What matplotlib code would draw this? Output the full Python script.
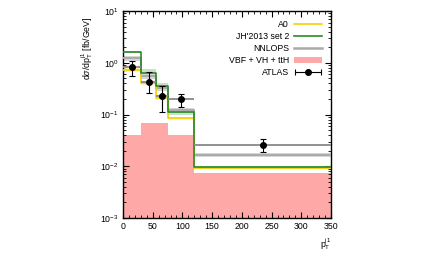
import matplotlib
matplotlib.use("Agg")
import matplotlib.pyplot as plt
import numpy as np
from matplotlib.patches import Patch
from matplotlib.lines import Line2D
from matplotlib.legend_handler import HandlerErrorbar
from matplotlib.ticker import MultipleLocator, LogLocator, NullFormatter

plt.rcParams['font.family'] = ['Liberation Sans', 'DejaVu Sans']
plt.rcParams['mathtext.fontset'] = 'custom'
plt.rcParams['mathtext.rm'] = 'Liberation Sans'
plt.rcParams['mathtext.it'] = 'Liberation Sans:italic'

# Data
edges = [0, 30, 55, 75, 120, 350]
a0 = [0.72, 0.41, 0.21, 0.084, 0.0092]
a0_lo = [0.66, 0.38, 0.19, 0.078, 0.0087]
a0_hi = [0.78, 0.45, 0.23, 0.090, 0.0098]
jh = [1.64, 0.64, 0.36, 0.113, 0.0095]
jh_lo = [1.55, 0.60, 0.33, 0.100, 0.0088]
jh_hi = [1.72, 0.75, 0.40, 0.125, 0.0102]
nnlops = [1.22, 0.55, 0.32, 0.122, 0.0165]
nnlops_lo = [1.10, 0.48, 0.29, 0.105, 0.0150]
nnlops_hi = [1.35, 0.62, 0.35, 0.135, 0.0180]
vbf = [0.040, 0.069, 0.069, 0.040, 0.0073]
atlas_x = [15, 43, 65, 98, 235]
atlas_y = [0.84, 0.42, 0.228, 0.196, 0.0258]
atlas_ylo = [0.55, 0.26, 0.113, 0.138, 0.0186]
atlas_yhi = [1.08, 0.67, 0.356, 0.249, 0.0332]
atlas_xlo = [0, 30, 55, 75, 120]
atlas_xhi = [30, 55, 75, 120, 350]

c_a0, c_a0b = '#f5d000', '#fff3a6'
c_jh, c_jhb = '#2a8a2a', '#b8dcb8'
c_nn, c_nnb = '#aaaaaa', '#d6d6d6'
c_vbf = '#ffa8a8'

fig = plt.figure(figsize=(4.31, 2.58), dpi=100)
ax = fig.add_axes([0.2854, 0.155, 0.4826, 0.802])

def step_vals(v):
    return list(v) + [v[-1]]

# VBF fill
ax.fill_between(edges, 1e-4, step_vals(vbf), step='post', color=c_vbf, lw=0, zorder=1)
# bands
ax.fill_between(edges, step_vals(nnlops_lo), step_vals(nnlops_hi), step='post', color=c_nnb, lw=0, zorder=2)
ax.fill_between(edges, step_vals(jh_lo), step_vals(jh_hi), step='post', color=c_jhb, lw=0, zorder=2, alpha=0.8)
ax.fill_between(edges, step_vals(a0_lo), step_vals(a0_hi), step='post', color=c_a0b, lw=0, zorder=2, alpha=0.9)
# lines
ax.step(edges, step_vals(nnlops), where='post', color=c_nn, lw=1.4, zorder=3)
ax.step(edges, step_vals(a0), where='post', color=c_a0, lw=1.2, zorder=4)
ax.step(edges, step_vals(jh), where='post', color=c_jh, lw=1.2, zorder=5)

# ATLAS
ay = np.array(atlas_y)
ax.hlines(atlas_y, atlas_xlo, atlas_xhi, color='#888888', lw=1.3, zorder=6)
ax.errorbar(atlas_x, atlas_y, yerr=[ay - np.array(atlas_ylo), np.array(atlas_yhi) - ay],
            fmt='o', color='black', ms=4, elinewidth=0.8, capsize=2, capthick=0.8, zorder=7)

ax.set_yscale('log')
ax.xaxis.set_major_locator(MultipleLocator(50))
ax.xaxis.set_minor_locator(MultipleLocator(10))
ax.yaxis.set_major_locator(LogLocator(base=10, numticks=10))
ax.yaxis.set_minor_locator(LogLocator(base=10, subs=np.arange(2, 10), numticks=20))
ax.yaxis.set_minor_formatter(NullFormatter())
ax.tick_params(which='both', direction='in', top=True, right=True, labelsize=6.3, pad=3)
ax.tick_params(which='major', length=4, width=0.8)
ax.tick_params(which='minor', length=2, width=0.6)
for s in ax.spines.values():
    s.set_linewidth(1.0)

ax.set_ylabel(r'd$\sigma$/dp$_{\mathrm{T}}^{\mathrm{j1}}$ [fb/GeV]', fontsize=6.3)
ax.yaxis.set_label_coords(-0.135, 0.82)
ax.set_xlabel(r'p$_{\mathrm{T}}^{\mathrm{j1}}$', fontsize=6.3)
ax.xaxis.set_label_coords(1.0, -0.09)
ax.xaxis.label.set_horizontalalignment('right')

# legend handle for ATLAS (drawn outside visible range)
atlas_handle = ax.errorbar([-1000], [1.0], xerr=[[1], [1]], fmt='o', color='black', ms=4,
                           elinewidth=0.8, capsize=2, capthick=0.8)
ax.set_xlim(0, 350)
ax.set_ylim(1e-3, 1e1)
handles = [Line2D([], [], color=c_a0, lw=1.2),
           Line2D([], [], color=c_jh, lw=1.2),
           Line2D([], [], color=c_nn, lw=1.8),
           Patch(facecolor=c_vbf, edgecolor='none'),
           atlas_handle]
labels = ['A0', "JH'2013 set 2", 'NNLOPS', 'VBF + VH + ttH', 'ATLAS']
ax.legend(handles, labels, loc='upper right', markerfirst=False, frameon=False,
          fontsize=6.3, handlelength=3.2, handleheight=0.8, labelspacing=0.35,
          borderaxespad=0.6, handletextpad=0.6,
          handler_map={type(atlas_handle): HandlerErrorbar(xerr_size=1.5)})

fig.savefig('out.png', dpi=100)
